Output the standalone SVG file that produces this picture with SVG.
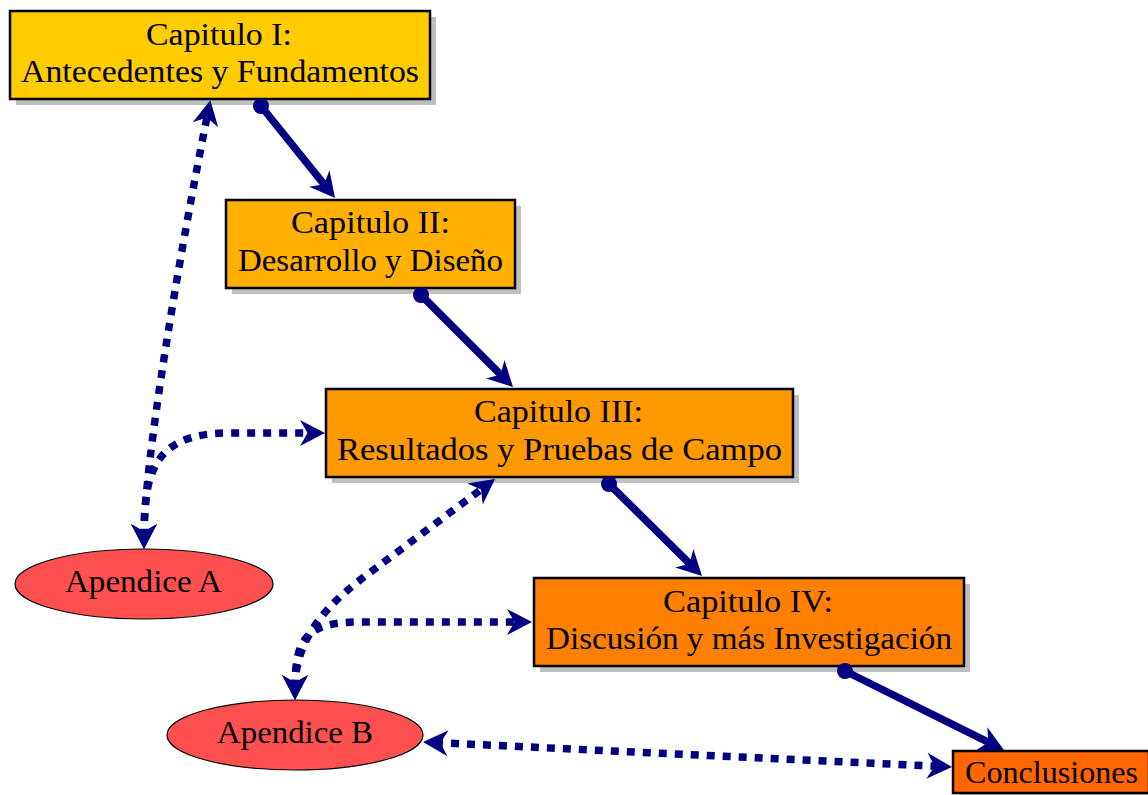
<svg xmlns="http://www.w3.org/2000/svg" width="1148" height="795" viewBox="0 0 1148 795">
  <style>
    .box { stroke: #000; stroke-width: 2.5; }
    .shadow { fill: #bfbfbf; }
    .ell { fill: #ff5050; stroke: #000; stroke-width: 1.2; }
    .lbl { font-family: "Liberation Serif", "Times New Roman", serif; font-size: 31px; fill: #000; text-anchor: middle; }
    .solid { fill: none; stroke: #000080; stroke-width: 7.5; marker-start: url(#dot); marker-end: url(#head); }
    .dotted { fill: none; stroke: #000080; stroke-width: 7.5; stroke-dasharray: 8 8; marker-start: url(#head); marker-end: url(#head); }
  </style>
  <defs>
    <!-- stealth-style arrowhead; its tip reaches 12px beyond the path end -->
    <marker id="head" markerUnits="userSpaceOnUse" viewBox="-15 -15 30 30" markerWidth="30" markerHeight="30" refX="0" refY="0" orient="auto-start-reverse" overflow="visible">
      <path d="M12,0 L-13,-13 L-5.5,0 L-13,13 Z" fill="#000080"/>
    </marker>
    <marker id="dot" markerUnits="userSpaceOnUse" viewBox="-9 -9 18 18" markerWidth="18" markerHeight="18" refX="0" refY="0" overflow="visible">
      <circle cx="0" cy="0" r="8" fill="#000080"/>
    </marker>
  </defs>

  <g id="cap1">
    <rect class="shadow" x="16" y="17" width="420" height="88"/>
    <rect class="box" x="10" y="11" width="420" height="88" fill="#ffcc00"/>
    <text class="lbl" x="219" y="45" textLength="146" lengthAdjust="spacingAndGlyphs">Capitulo I:</text>
    <text class="lbl" x="220" y="82" textLength="398" lengthAdjust="spacingAndGlyphs">Antecedentes y Fundamentos</text>
  </g>

  <g id="cap2">
    <rect class="shadow" x="232" y="206" width="289" height="88"/>
    <rect class="box" x="226" y="200" width="289" height="88" fill="#ffb000"/>
    <text class="lbl" x="370.5" y="233" textLength="159" lengthAdjust="spacingAndGlyphs">Capitulo II:</text>
    <text class="lbl" x="370.5" y="271" textLength="265" lengthAdjust="spacingAndGlyphs">Desarrollo y Diseño</text>
  </g>

  <g id="cap3">
    <rect class="shadow" x="332" y="395" width="467" height="88"/>
    <rect class="box" x="326" y="389" width="467" height="88" fill="#ff9900"/>
    <text class="lbl" x="558.5" y="422" textLength="169" lengthAdjust="spacingAndGlyphs">Capitulo III:</text>
    <text class="lbl" x="559.5" y="460" textLength="445" lengthAdjust="spacingAndGlyphs">Resultados y Pruebas de Campo</text>
  </g>

  <g id="cap4">
    <rect class="shadow" x="540" y="584" width="430" height="88"/>
    <rect class="box" x="534" y="578" width="430" height="88" fill="#ff8000"/>
    <text class="lbl" x="748" y="612" textLength="170" lengthAdjust="spacingAndGlyphs">Capitulo IV:</text>
    <text class="lbl" x="749" y="649" textLength="406" lengthAdjust="spacingAndGlyphs">Discusión y más Investigación</text>
  </g>

  <g id="conclusiones">
    <rect class="shadow" x="959" y="757" width="196" height="42"/>
    <rect class="box" x="953" y="751" width="196" height="42" fill="#ff6600"/>
    <text class="lbl" x="1051.5" y="783" textLength="173" lengthAdjust="spacingAndGlyphs">Conclusiones</text>
  </g>

  <g id="apendiceA">
    <ellipse class="ell" cx="144" cy="584" rx="129" ry="35"/>
    <text class="lbl" x="143.5" y="592" textLength="157" lengthAdjust="spacingAndGlyphs">Apendice A</text>
  </g>

  <g id="apendiceB">
    <ellipse class="ell" cx="295" cy="735" rx="128" ry="35"/>
    <text class="lbl" x="295" y="743" textLength="156" lengthAdjust="spacingAndGlyphs">Apendice B</text>
  </g>

  <g id="connectors">
    <!-- chapter sequence -->
    <path class="solid" d="M261,106 L327.5,188.6"/>
    <path class="solid" d="M421,295 L504.5,378.5"/>
    <path class="solid" d="M609,484 L693.5,567.5"/>
    <path class="solid" d="M845,671 L993.2,744.7"/>
    <!-- appendix links -->
    <path class="dotted" d="M144,537 C144,465 178,262 208,112"/>
    <path class="dotted" d="M144,537 C144,470 155,433 230,433 L313,433"/>
    <path class="dotted" d="M295,688 C295,625 348,589 380,565 L485.4,486.2"/>
    <path class="dotted" d="M295,688 C295,640 305,622 360,622 L520,622"/>
    <path class="dotted" d="M435,742.6 L940,766.4"/>
  </g>
</svg>
